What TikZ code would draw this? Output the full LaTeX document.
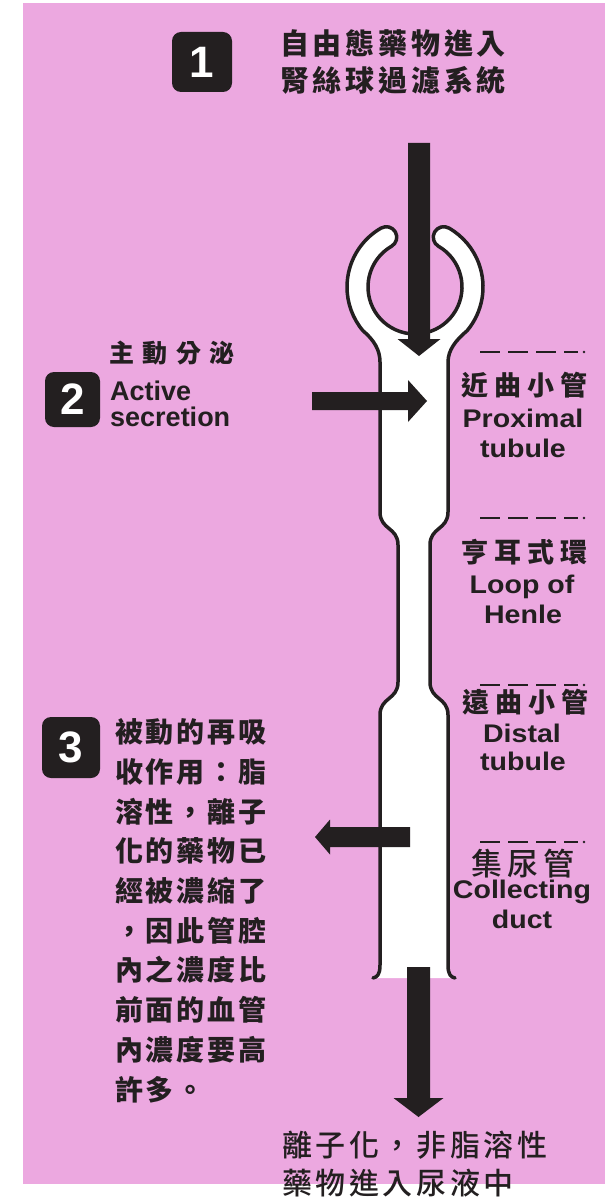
\documentclass[tikz,border=0pt]{standalone}
\usepackage{fontspec}
\setmainfont{Liberation Sans}
\newfontfamily\cjk{Noto Sans CJK TC Black}
\newfontfamily\cjkm{Noto Sans CJK TC Medium}
\newfontfamily\labfont[FakeStretch=1.12]{Liberation Sans}
\usetikzlibrary{calc}
\definecolor{bg}{RGB}{236,168,224}
\definecolor{ink}{RGB}{35,31,32}

% outline of Bowman's capsule and the tubule (open at the bottom)
\def\tubeoutline{(455,-978) .. controls (451,-977) and (448,-975) .. (448,-965)
 -- (448,-715) .. controls (448,-697) and (430,-700) .. (430,-682)
 -- (430,-545) .. controls (430,-527) and (448,-530) .. (448,-512)
 -- (448,-362) .. controls (448,-350) and (456,-340) .. (467.1,-330.7)
 arc[start angle=-40, end angle=60, radius=68pt]
 arc[start angle=60, end angle=240, radius=10.5pt]
 arc[start angle=60, end angle=-240, radius=47pt]
 arc[start angle=-60, end angle=120, radius=10.5pt]
 arc[start angle=120, end angle=220, radius=68pt]
 .. controls (374,-340) and (380,-350) .. (380,-362)
 -- (380,-512) .. controls (380,-530) and (398,-527) .. (398,-545)
 -- (398,-682) .. controls (398,-700) and (380,-697) .. (380,-715)
 -- (380,-965) .. controls (380,-975) and (377,-977) .. (373,-978)}

\begin{document}
\begin{tikzpicture}[x=1pt,y=1pt,
  numbox/.style={fill=ink, rounded corners=9pt, inner sep=0pt, text=white,
    font=\fontsize{44}{44}\selectfont\bfseries},
  lat/.style={inner sep=0pt, text=ink, align=left,
    font=\fontsize{27}{26.5}\selectfont\bfseries},
  lab/.style={inner sep=0pt, text=ink, font=\labfont\fontsize{25.5}{25.5}\selectfont\bfseries},
  cjtop/.style={inner sep=0pt, text=ink, anchor=west,
    font=\cjk\fontsize{29}{29}\selectfont\addfontfeatures{LetterSpace=13}},
  cjlab/.style={inner sep=0pt, text=ink, anchor=west,
    font=\cjk\fontsize{27}{27}\selectfont\addfontfeatures{LetterSpace=22}},
  cjnote/.style={inner sep=0pt, text=ink, anchor=north west, align=left,
    font=\cjk\fontsize{28}{39.7}\selectfont\addfontfeatures{LetterSpace=10}},
  cjbot/.style={inner sep=0pt, text=ink, anchor=west,
    font=\cjkm\fontsize{30}{30}\selectfont\addfontfeatures{LetterSpace=12}},
  dashln/.style={ink, line width=2.2pt, dash pattern=on 20pt off 8pt},
  wall/.style={ink, line width=3.5pt, line join=round, line cap=round}
]
\useasboundingbox (0,0) rectangle (605,-1198);
\fill[white] (0,0) rectangle (605,-1198);
\fill[bg] (23,-3) rectangle (605,-1184);

% nephron
\fill[white] \tubeoutline -- cycle;
\draw[wall] \tubeoutline;

% block arrows
\coordinate (inS) at (419,-143);   \coordinate (inT) at (419,-356);
\coordinate (secS) at (312,-401);  \coordinate (secT) at (427,-401);
\coordinate (reS) at (410,-837);   \coordinate (reT) at (315,-837);
\coordinate (outS) at (418.5,-967); \coordinate (outT) at (418.5,-1117);

\fill[ink] ($(inS)+(-11,0)$) -- ($(inT)+(-11,17)$) -- ($(inT)+(-21.5,17)$) -- (inT)
  -- ($(inT)+(21.5,17)$) -- ($(inT)+(11,17)$) -- ($(inS)+(11,0)$) -- cycle;
\fill[ink] ($(secS)+(0,9)$) -- ($(secT)+(-19,9)$) -- ($(secT)+(-19,21)$) -- (secT)
  -- ($(secT)+(-19,-21)$) -- ($(secT)+(-19,-9)$) -- ($(secS)+(0,-9)$) -- cycle;
\fill[ink] ($(reS)+(0,10)$) -- ($(reT)+(15,10)$) -- ($(reT)+(15,17.5)$) -- (reT)
  -- ($(reT)+(15,-17.5)$) -- ($(reT)+(15,-10)$) -- ($(reS)+(0,-10)$) -- cycle;
\fill[ink] ($(outS)+(-11.5,0)$) -- ($(outT)+(-11.5,19)$) -- ($(outT)+(-25,19)$) -- (outT)
  -- ($(outT)+(25,19)$) -- ($(outT)+(11.5,19)$) -- ($(outS)+(11.5,0)$) -- cycle;

% step 1
\node[numbox, minimum width=60pt, minimum height=60pt] (n1) at (202,-62) {1};
\node[cjtop] (t1a) at (280,-43) {自由態藥物進入};
\node[cjtop] (t1b) at (280,-80) {腎絲球過濾系統};

% step 2
\node[numbox, minimum width=55pt, minimum height=55pt] (n2) at (72.5,-399.5) {2};
\node[cjlab, font=\cjk\fontsize{25}{25}\selectfont\addfontfeatures{LetterSpace=34}] (t2c) at (109,-353) {主動分泌};
\node[lat, anchor=north west] (t2a) at (110,-380.5) {Active\\secretion};

% step 3
\node[numbox, minimum width=58pt, minimum height=61pt] (n3) at (71,-747.5) {3};
\node[cjnote] (t3) at (115,-718.5) {被動的再吸\\收作用：脂\\溶性，離子\\化的藥物已\\經被濃縮了\\，因此管腔\\內之濃度比\\前面的血管\\內濃度要高\\許多。};

% segment labels
\draw[dashln] (480,-352) coordinate (d1a) -- (578,-352) coordinate (d1b);
\fill[ink] (584,-352) circle[radius=1.3pt];
\node[cjlab] (l1c) at (461,-385) {近曲小管};
\node[lab, anchor=base] (l1a) at (523,-427) {Proximal};
\node[lab, anchor=base] (l1b) at (523,-457) {tubule};

\draw[dashln] (480,-518) coordinate (d2a) -- (578,-518) coordinate (d2b);
\fill[ink] (584,-518) circle[radius=1.3pt];
\node[cjlab] (l2c) at (461,-552) {亨耳式環};
\node[lab, anchor=base] (l2a) at (522,-593) {Loop of};
\node[lab, anchor=base] (l2b) at (523,-623) {Henle};

\draw[dashln] (480,-685) coordinate (d3a) -- (578,-685) coordinate (d3b);
\fill[ink] (584,-685) circle[radius=1.3pt];
\node[cjlab] (l3c) at (462,-702) {遠曲小管};
\node[lab, anchor=base] (l3a) at (522,-742) {Distal};
\node[lab, anchor=base] (l3b) at (523,-770) {tubule};

\draw[dashln] (480,-842) coordinate (d4a) -- (578,-842) coordinate (d4b);
\fill[ink] (584,-842) circle[radius=1.3pt];
\node[cjlab, font=\cjkm\fontsize{31}{31}\selectfont\addfontfeatures{LetterSpace=16}] (l4c) at (471,-864) {集尿管};
\node[lab, anchor=base] (l4a) at (522,-898) {Collecting};
\node[lab, anchor=base] (l4b) at (522,-928) {duct};

% urine
\node[cjbot] (ua) at (282,-1145) {離子化，非脂溶性};
\node[cjbot] (ub) at (282,-1183) {藥物進入尿液中};
\end{tikzpicture}
\end{document}
